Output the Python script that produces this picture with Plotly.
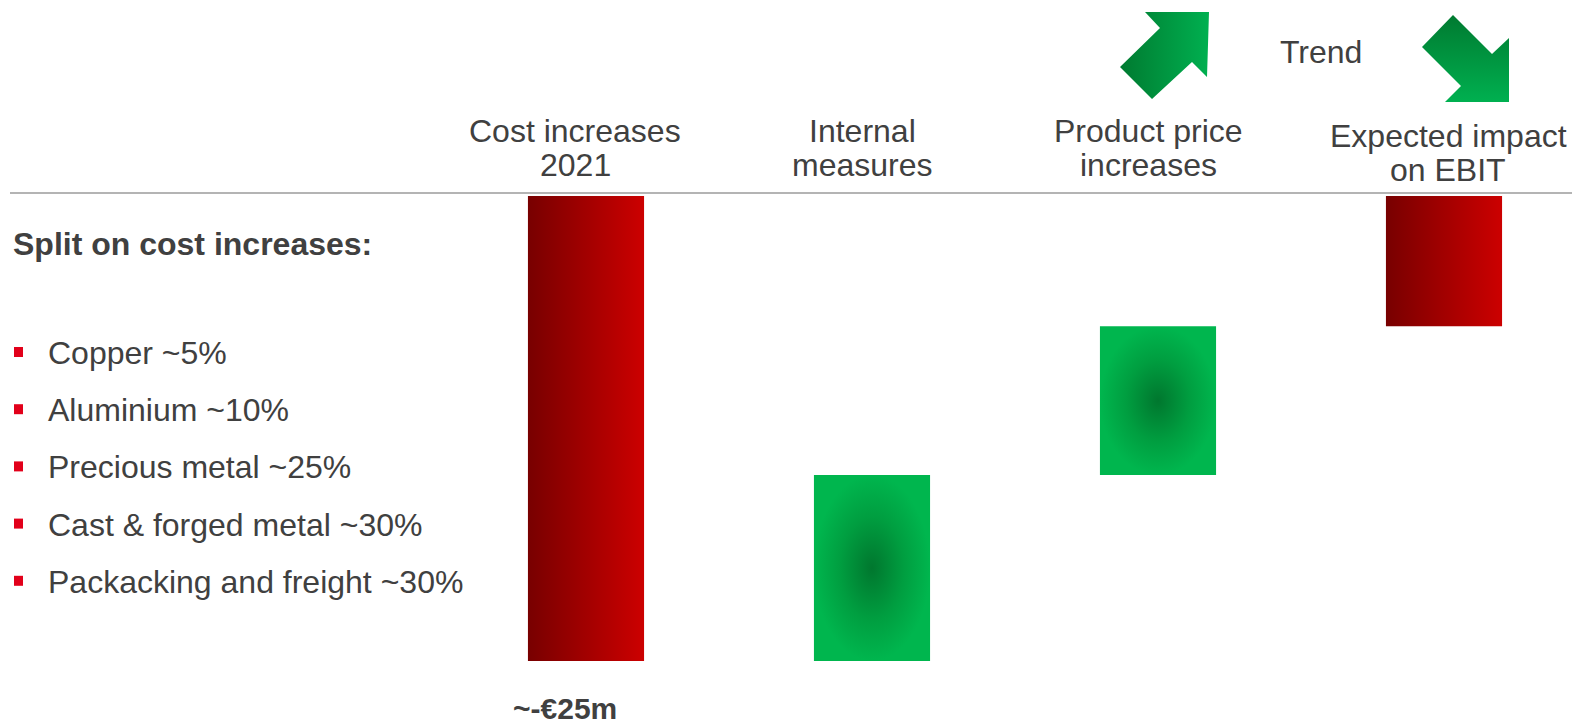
import plotly.graph_objects as go

# ---- data -------------------------------------------------------------
categories = ["Cost increases<br>2021", "Internal<br>measures",
              "Product price<br>increases", "Expected impact<br>on EBIT"]
steps = [-25, 10, 8]          # € m, waterfall movements
split_title = "Split on cost increases:"
split_items = ["Copper ~5%", "Aluminium ~10%", "Precious metal ~25%",
               "Cast & forged metal ~30%", "Packacking and freight ~30%"]

# ---- canvas helpers -------------------------------------------------------
W, H = 1572, 728
TEXT = "#404040"
FONT = "Arial, 'Liberation Sans', sans-serif"
FS = 32


def px(x):
    return x / W


def py(y):
    return 1 - y / H


# waterfall bases / ends
total = sum(steps)
bases, ends = [], []
run = 0
for s in steps:
    bases.append(run)
    run += s
    ends.append(run)
bases.append(0)
ends.append(total)

RED = [[0, "#780000"], [1, "#cc0000"]]
GREEN = [[0, "#00772e"], [0.55, "#009e40"], [1, "#00b64e"]]
HALF = 0.203

fig = go.Figure()

for i, (b, e) in enumerate(zip(bases, ends)):
    up = e > b
    xs = [i - HALF, i + HALF, i + HALF, i - HALF, i - HALF]
    ys = [b, b, e, e, b]
    grad = (dict(type="radial", colorscale=GREEN) if up
            else dict(type="horizontal", colorscale=RED))
    fig.add_trace(go.Scatter(
        x=xs, y=ys, mode="lines", fill="toself", line=dict(width=0),
        fillcolor="#00b050" if up else "#b00000",
        fillgradient=grad, hoverinfo="skip", showlegend=False))

# trend arrows (pixel space overlay)
arrow_up = [(1145, 12), (1209, 12), (1207, 77), (1192, 62), (1152, 99),
            (1120, 67), (1160, 28), (1145, 12)]
arrow_down = [(1453, 15), (1492, 54), (1509, 38), (1509, 102), (1445, 102),
              (1461, 86), (1422, 47), (1453, 15)]
DARK_TO_LIGHT = [[0, "#007a30"], [1, "#00b050"]]
LIGHT_TO_DARK = [[0, "#00b050"], [1, "#007a30"]]
for pts, orient, scale in ((arrow_up, "horizontal", DARK_TO_LIGHT),
                           (arrow_down, "vertical", LIGHT_TO_DARK)):
    fig.add_trace(go.Scatter(
        x=[p[0] for p in pts], y=[p[1] for p in pts], xaxis="x2", yaxis="y2",
        mode="lines", fill="toself", line=dict(width=0), fillcolor="#00a040",
        fillgradient=dict(type=orient, colorscale=scale),
        hoverinfo="skip", showlegend=False))

# ---- axes: index 0 centred at 586px, 286px per category; 18.6px per € m --
x_step, x0_px = 286, 586
y_unit, y0_px = 18.6, 196
fig.update_layout(
    width=W, height=H, margin=dict(l=0, r=0, t=0, b=0),
    paper_bgcolor="white", plot_bgcolor="white",
    font=dict(family=FONT, color=TEXT),
    xaxis=dict(range=[-x0_px / x_step, (W - x0_px) / x_step], visible=False,
               fixedrange=True),
    yaxis=dict(range=[-(H - y0_px) / y_unit, y0_px / y_unit], visible=False,
               fixedrange=True),
    xaxis2=dict(range=[0, W], overlaying="x", visible=False),
    yaxis2=dict(range=[H, 0], overlaying="y", visible=False),
)

# baseline rule
fig.add_shape(type="line", xref="paper", yref="paper", x0=px(10), x1=1,
              y0=py(193), y1=py(193), line=dict(color="#b4b4b4", width=2))

# category headers, one annotation per line
label_shift = [-11, -10, -10, 4]
label_y = [(131, 165), (131, 165), (131, 165), (136, 170)]
for i, cat in enumerate(categories):
    for line, yy in zip(cat.split("<br>"), label_y[i]):
        fig.add_annotation(x=i, xref="x", y=py(yy), yref="paper",
                           text=line, showarrow=False, xshift=label_shift[i],
                           font=dict(size=FS, color=TEXT),
                           xanchor="center", yanchor="middle")

fig.add_annotation(x=px(1321), y=py(52), xref="paper", yref="paper",
                   text="Trend", showarrow=False, xanchor="center",
                   font=dict(size=FS, color=TEXT), yanchor="middle")

# value label of the cost bar
fig.add_annotation(x=px(565), y=py(708), xref="paper", yref="paper",
                   text=f"<b>~-€{abs(steps[0])}m</b>", showarrow=False,
                   xanchor="center",
                   font=dict(size=30, color=TEXT), yanchor="middle")

# split list
fig.add_annotation(x=px(11), y=py(244), xref="paper", yref="paper",
                   text=f"<b>{split_title}</b>", showarrow=False,
                   xanchor="left", yanchor="middle",
                   font=dict(size=FS, color=TEXT))
for k, item in enumerate(split_items):
    yc = 353 + k * 57.2
    fig.add_shape(type="rect", xref="paper", yref="paper",
                  x0=px(14), x1=px(23), y0=py(yc - 6), y1=py(yc + 4),
                  fillcolor="#e2001a", line=dict(width=0))
    fig.add_annotation(x=px(46), y=py(yc), xref="paper", yref="paper",
                       text=item, showarrow=False, xanchor="left",
                       yanchor="middle", font=dict(size=FS, color=TEXT))

fig.write_html("out.html")
